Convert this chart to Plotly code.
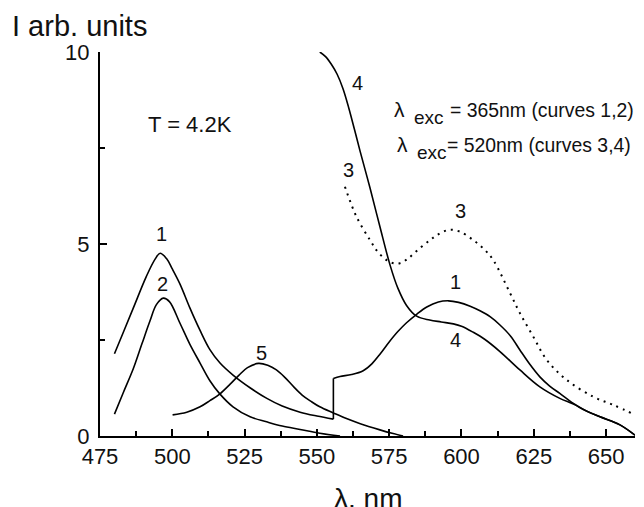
import plotly.graph_objects as go

# ---- data ----
# curve 1, short-wavelength part (ends at the detector switch)
c1a_x = [480, 483, 486.5, 491, 494, 495.8, 498, 500, 502.7, 506, 509.6, 513, 516.5, 521.1, 527, 532.7, 538, 544.2, 550, 555.7]
c1a_y = [2.14, 2.69, 3.33, 4.15, 4.6, 4.76, 4.62, 4.35, 3.95, 3.35, 2.75, 2.25, 1.9, 1.58, 1.25, 0.98, 0.78, 0.62, 0.52, 0.44]
# curve 1, long-wavelength part
c1b_x = [555.7, 558, 562, 566, 569, 572, 575, 578, 581, 584.5, 588, 592, 595.5, 599, 603, 606.4, 610, 613.3, 617,
         620.2, 623.5, 627.1, 630.5, 634, 638.7, 643, 647.9, 654.8, 660]
c1b_y = [1.50, 1.55, 1.6, 1.7, 1.88, 2.15, 2.45, 2.72, 2.95, 3.17, 3.36, 3.49, 3.52, 3.48, 3.38, 3.26, 3.1, 2.89, 2.6,
         2.24, 1.88, 1.54, 1.3, 1.11, 0.85, 0.66, 0.5, 0.29, 0.02]

c2_x = [480, 483, 486.5, 489.5, 492.3, 494.5, 496.9, 499, 502.7, 506, 509.6, 513, 516.5, 521, 526.9, 532.6, 538, 544.2, 551, 558]
c2_y = [0.57, 1.12, 1.75, 2.4, 3.0, 3.42, 3.59, 3.5, 2.93, 2.4, 1.9, 1.44, 1.09, 0.76, 0.5, 0.37, 0.26, 0.17, 0.07, 0.0]

c3_x = [559.7, 563.7, 568.4, 571, 574.1, 576.5, 578.7, 581.5, 584.5, 589.1, 592.6, 596, 599.5, 604.1, 608, 611, 616.8,
        620.2, 624.8, 629.5, 636.4, 645.6, 652.5, 660]
c3_y = [6.49, 5.71, 5.1, 4.8, 4.58, 4.5, 4.5, 4.62, 4.82, 5.1, 5.28, 5.37, 5.32, 5.1, 4.85, 4.58, 3.72,
        3.2, 2.59, 1.98, 1.46, 1.02, 0.81, 0.55]

c4_x = [551, 553, 555, 557, 559, 561, 563, 565, 568.4, 571.8, 575.3, 578, 581, 584.5, 589, 593, 597.2, 600, 604.1, 608,
        613.3, 620.2, 627.1, 634, 638.7, 643, 647.9, 654.8, 660]
c4_y = [10.0, 9.88, 9.68, 9.42, 9.05, 8.55, 7.98, 7.4, 6.45, 5.45, 4.45, 3.85, 3.4, 3.12, 3.02, 2.97, 2.92, 2.86, 2.7, 2.52,
        2.2, 1.72, 1.28, 0.98, 0.83, 0.66, 0.5, 0.29, 0.02]

c5_x = [500.1, 505, 509.6, 513, 516.5, 520, 523, 526, 529.8, 533, 536, 539, 542, 545, 548, 551, 555.7, 560, 565, 571.8, 576, 579.8]
c5_y = [0.55, 0.62, 0.76, 0.92, 1.1, 1.35, 1.58, 1.78, 1.89, 1.84, 1.72, 1.52, 1.28, 1.06, 0.9, 0.76, 0.6, 0.46, 0.32, 0.16, 0.07, 0.0]

curve_labels = ["1", "2", "5", "4", "3", "3", "1", "4"]
label_x = [496.4, 496.6, 530.8, 564.0, 561.1, 599.8, 598.1, 598.1]
label_y = [5.26, 3.97, 2.17, 9.2, 6.94, 5.87, 4.02, 2.51]

x_ticks = [475, 500, 525, 550, 575, 600, 625, 650]
y_ticks = [0, 5, 10]

FONT = "Liberation Sans, Arial, sans-serif"
INK = "#111111"

fig = go.Figure()
line_style = dict(color="black", width=1.6, shape="spline", smoothing=1.0)
for xs, ys in [(c1a_x, c1a_y), (c1b_x, c1b_y), (c2_x, c2_y), (c4_x, c4_y), (c5_x, c5_y)]:
    fig.add_trace(go.Scatter(x=xs, y=ys, mode="lines", line=line_style, showlegend=False, hoverinfo="skip"))
# vertical step of curve 1 joining its two parts
fig.add_trace(go.Scatter(x=[c1a_x[-1], c1b_x[0]], y=[c1a_y[-1], c1b_y[0]], mode="lines",
                         line=dict(color="black", width=1.6), showlegend=False, hoverinfo="skip"))
fig.add_trace(go.Scatter(x=c3_x, y=c3_y, mode="lines",
                         line=dict(color="black", width=2, dash="2px,5px", shape="spline", smoothing=1.0),
                         showlegend=False, hoverinfo="skip"))

for t, x, y in zip(curve_labels, label_x, label_y):
    fig.add_annotation(x=x, y=y, text=t, showarrow=False, font=dict(family=FONT, size=20, color=INK),
                       xanchor="center", yanchor="middle")

fig.add_annotation(x=506.1, y=8.125, text="T = 4.2K", showarrow=False,
                   font=dict(family=FONT, size=22, color=INK), xanchor="center", yanchor="middle")

# excitation-wavelength notes: λ, subscript "exc", and the rest of the line
exc_rows = [
    dict(lam_x=576.0, exc_x=583.0, rest_x=595.3, y=8.50, rest="= 365nm (curves 1,2)"),
    dict(lam_x=577.0, exc_x=583.9, rest_x=594.2, y=7.59, rest="= 520nm (curves 3,4)"),
]
for r in exc_rows:
    fig.add_annotation(x=r["lam_x"], y=r["y"], text="λ", showarrow=False,
                       font=dict(family=FONT, size=21, color=INK), xanchor="left", yanchor="middle")
    fig.add_annotation(x=r["exc_x"], y=r["y"] - 0.2, text="exc", showarrow=False,
                       font=dict(family=FONT, size=19, color=INK), xanchor="left", yanchor="middle")
    fig.add_annotation(x=r["rest_x"], y=r["y"], text=r["rest"], showarrow=False,
                       font=dict(family=FONT, size=19.4, color=INK), xanchor="left", yanchor="middle")

fig.add_annotation(xref="paper", yref="paper", x=-0.168, y=1.068, text="I arb. units", showarrow=False,
                   font=dict(family=FONT, size=29, color=INK), xanchor="left", yanchor="middle")
fig.add_annotation(xref="paper", yref="paper", x=0.5, y=-0.162, text="λ, nm", showarrow=False,
                   font=dict(family=FONT, size=28, color=INK), xanchor="center", yanchor="middle")

axis_common = dict(showgrid=False, zeroline=False, showline=True, linecolor="black", linewidth=2,
                   ticks="inside", ticklen=7, tickwidth=1.5, tickcolor="black",
                   tickfont=dict(family=FONT, size=22, color=INK), mirror=False)

fig.update_xaxes(range=[475, 660], tickvals=x_ticks, ticktext=[str(v) for v in x_ticks],
                 minor=dict(ticks="inside", ticklen=5, tickwidth=1.5, tickcolor="black", dtick=12.5, tick0=475),
                 ticklabelstandoff=0, **axis_common)
fig.update_yaxes(range=[0, 10], tickvals=y_ticks, ticktext=[str(v) for v in y_ticks],
                 minor=dict(ticks="inside", ticklen=5, tickwidth=1.5, tickcolor="black", dtick=2.5, tick0=0),
                 ticklabelstandoff=4, **axis_common)

# page body adds an 8px margin, so the figure is 8px smaller on each axis
fig.update_layout(width=636, height=499, margin=dict(l=92, r=9, t=44, b=71),
                  paper_bgcolor="white", plot_bgcolor="white", showlegend=False)

fig.write_html("out.html")
